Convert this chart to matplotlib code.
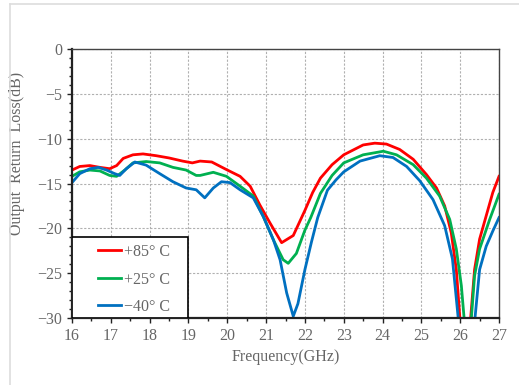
import matplotlib
matplotlib.use("Agg")
import matplotlib.pyplot as plt
from matplotlib.lines import Line2D
from matplotlib.patches import Rectangle
from matplotlib.ticker import MultipleLocator

f_red = [16.0, 16.2, 16.46, 16.72, 16.97, 17.15, 17.32, 17.57, 17.83, 18.17, 18.5, 18.85,
         19.1, 19.3, 19.6, 19.98, 20.33, 20.59, 20.84, 21.1, 21.4, 21.7, 22.0, 22.2, 22.4,
         22.7, 23.0, 23.5, 23.8, 24.1, 24.44, 24.79, 25.13, 25.39, 25.6, 25.77, 25.9, 26.0,
         26.13, 26.26, 26.37, 26.5, 26.67, 26.84, 27.0]
rl_red = [-13.5, -13.1, -13.0, -13.2, -13.35, -13.0, -12.2, -11.8, -11.7, -11.9, -12.15, -12.5,
          -12.7, -12.5, -12.6, -13.45, -14.2, -15.3, -17.4, -19.4, -21.6, -20.8, -18.0, -16.0, -14.4,
          -12.9, -11.8, -10.7, -10.5, -10.6, -11.2, -12.3, -14.0, -15.5, -17.5, -20.5, -24.6, -30.5,
          -34.0, -30.5, -24.6, -21.2, -18.6, -16.0, -14.2]

f_green = [16.0, 16.2, 16.46, 16.72, 16.97, 17.15, 17.36, 17.57, 17.91, 18.26, 18.6, 18.94,
           19.2, 19.3, 19.64, 19.98, 20.33, 20.67, 20.93, 21.19, 21.44, 21.57, 21.78, 22.0,
           22.15, 22.4, 22.7, 23.0, 23.5, 24.02, 24.36, 24.79, 25.13, 25.47, 25.73, 25.9, 26.03,
           26.12, 26.2, 26.27, 26.37, 26.5, 26.76, 27.0]
rl_green = [-14.2, -13.7, -13.5, -13.6, -14.1, -14.2, -13.5, -12.7, -12.55, -12.7, -13.2, -13.5,
            -14.1, -14.1, -13.75, -14.2, -15.3, -16.4, -18.7, -21.3, -23.5, -23.9, -22.8, -20.2,
            -18.8, -16.1, -14.1, -12.7, -11.8, -11.4, -11.8, -12.9, -14.4, -16.4, -19.0, -22.3, -26.4,
            -31.0, -34.0, -31.0, -25.3, -22.3, -19.0, -16.2]

f_blue = [16.0, 16.2, 16.46, 16.68, 16.89, 17.1, 17.23, 17.4, 17.62, 17.91, 18.26, 18.6,
          18.94, 19.2, 19.42, 19.64, 19.85, 20.07, 20.33, 20.67, 20.93, 21.19, 21.36, 21.53,
          21.7, 21.82, 22.0, 22.17, 22.33, 22.58, 22.8, 23.0, 23.42, 23.93, 24.27, 24.62, 24.96,
          25.3, 25.6, 25.8, 25.96, 26.15, 26.37, 26.5, 26.67, 26.84, 27.0]
rl_blue = [-14.9, -13.9, -13.35, -13.2, -13.5, -13.9, -14.1, -13.35, -12.6, -12.95, -13.9, -14.8,
           -15.5, -15.7, -16.6, -15.5, -14.8, -14.9, -15.7, -16.6, -18.7, -21.3, -23.5, -27.2,
           -29.8, -28.4, -24.6, -21.5, -18.8, -15.75, -14.6, -13.7, -12.5, -11.9, -12.1, -13.1, -14.7,
           -16.8, -19.7, -23.4, -30.5, -34.0, -30.5, -24.6, -22.0, -20.3, -18.8]

labels = ["+85° C", "+25° C", "−40° C"]
colors = ["#ff0000", "#00b050", "#0070c0"]

plt.rcParams['font.family'] = ['Liberation Serif', 'DejaVu Serif']

fig = plt.figure(figsize=(5.19, 3.85), dpi=100)
ax = fig.add_axes([0.1387, 0.174, 0.8228, 0.6987])

for f, rl, lab, col in zip([f_red, f_green, f_blue], [rl_red, rl_green, rl_blue], labels, colors):
    ax.plot(f, rl, color=col, lw=2.0, label=lab, solid_joinstyle='round')

ax.set_xlim(16, 27)
ax.set_ylim(-30, 0)
ax.xaxis.set_major_locator(MultipleLocator(1))
ax.xaxis.set_minor_locator(MultipleLocator(0.5))
ax.yaxis.set_major_locator(MultipleLocator(5))
ax.yaxis.set_minor_locator(MultipleLocator(1))
ax.grid(True, which='major', color='#b0b0b0', ls=(0, (2, 1.5)), lw=0.8)
ax.tick_params(which='both', direction='out', colors='#222222', labelcolor='#666666', labelsize=11.5)
ax.tick_params(which='major', length=3.5, width=1.0)
ax.tick_params(which='minor', length=2.5, width=1.0)

for side in ['left', 'bottom']:
    ax.spines[side].set_linewidth(1.6)
    ax.spines[side].set_color('#222222')
for side in ['top', 'right']:
    ax.spines[side].set_linewidth(1.0)
    ax.spines[side].set_color('#444444')

ax.set_xlabel('Frequency(GHz)', color='#666666', fontsize=11.5, labelpad=4)
ax.set_ylabel('Output  Return  Loss(dB)', color='#666666', fontsize=11.5)
ax.yaxis.set_label_coords(-0.11, 0.61)

# legend box sits in the lower left corner of the axes
ax.add_patch(Rectangle((0, 0), 0.2717, 0.301, transform=ax.transAxes, fill=True,
                       facecolor='white', edgecolor='black', lw=1.2, zorder=4))
leg = ax.legend(loc='upper left', bbox_to_anchor=(0.061, 0.275), borderaxespad=0, borderpad=0,
                frameon=False, fontsize=11.5, handlelength=1.45, handletextpad=0.15,
                labelspacing=0.72)
leg.set_zorder(5)
for t in leg.get_texts():
    t.set_color('#666666')

# light screenshot border
fig.add_artist(Line2D([0.019, 0.019], [0, 0.99], color='#dddddd', lw=1.2))
fig.add_artist(Line2D([0.019, 1], [0.99, 0.99], color='#dddddd', lw=1.2))

fig.savefig('out.png', dpi=100)
